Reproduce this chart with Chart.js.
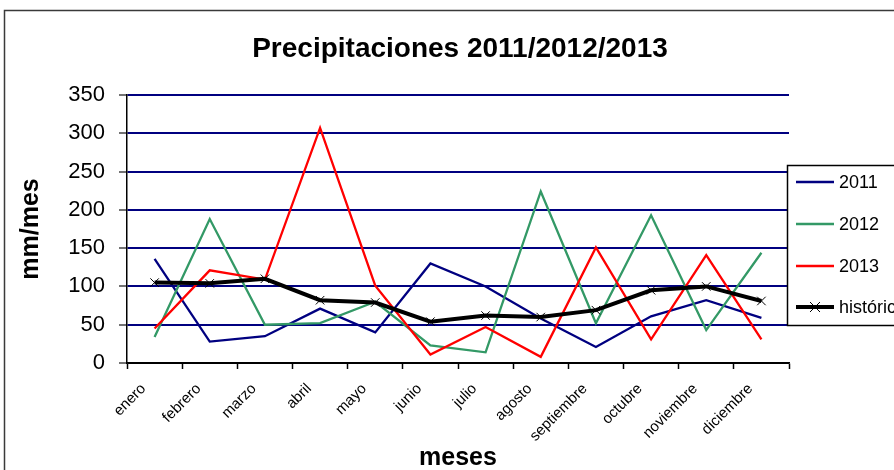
<!DOCTYPE html>
<html>
<head>
<meta charset="utf-8">
<script src="https://cdn.jsdelivr.net/npm/chart.js@4/dist/chart.umd.min.js"></script>
<style>
  html, body { margin: 0; padding: 0; background: #fff; }
  canvas { display: block; }
</style>
</head>
<body>
<canvas id="c" width="894" height="470"></canvas>
<script>
const months = ['enero','febrero','marzo','abril','mayo','junio','julio','agosto','septiembre','octubre','noviembre','diciembre'];
const s2011 = [136, 28, 35, 71, 40, 130, 100, 58, 21, 61, 82, 59];
const s2012 = [34, 188, 50, 52, 80, 23, 14, 224, 52, 193, 43, 144];
const s2013 = [45, 121, 109, 307, 101, 11, 47, 8, 151, 31, 141, 31];
const historico = [105, 104, 110, 82, 79, 54, 62, 60, 69, 95, 100, 81];
const seriesNames = ['2011', '2012', '2013', 'histórico'];
const chartTitle = 'Precipitaciones 2011/2012/2013';
const yTitle = 'mm/mes';
const xTitle = 'meses';

const FONT = '"Liberation Sans", Arial, sans-serif';

const framePlugin = {
  id: 'frame',
  beforeDraw(chart) {
    const ctx = chart.ctx;
    ctx.save();
    ctx.fillStyle = '#fff';
    ctx.fillRect(0, 0, chart.width, chart.height);
    ctx.restore();
  },
  afterDraw(chart) {
    const ctx = chart.ctx;
    ctx.save();
    // outer border
    ctx.strokeStyle = '#3a3a3a';
    ctx.lineWidth = 1.5;
    ctx.strokeRect(4.5, 10.5, 1000, 1000);
    // title
    ctx.fillStyle = '#000';
    ctx.font = 'bold 28px ' + FONT;
    ctx.textAlign = 'center';
    ctx.textBaseline = 'alphabetic';
    ctx.fillText(chartTitle, 460, 57);
    // legend box
    const lx = 787, ly = 165, lb = 325;
    ctx.fillStyle = '#fff';
    ctx.fillRect(lx, ly, 200, lb - ly);
    ctx.strokeStyle = '#000';
    ctx.lineWidth = 1.5;
    ctx.strokeRect(lx + 0.5, ly + 0.5, 200, lb - ly);
    const rows = [182, 224, 266, 307];
    chart.data.datasets.forEach((ds, i) => {
      const y = rows[i];
      ctx.strokeStyle = ds.borderColor;
      ctx.lineWidth = ds.borderWidth;
      ctx.beginPath();
      ctx.moveTo(796, y);
      ctx.lineTo(834, y);
      ctx.stroke();
      if (ds.pointRadius > 0) {
        ctx.strokeStyle = '#000';
        ctx.lineWidth = 1;
        const r = 5;
        ctx.beginPath();
        ctx.moveTo(815 - r, y - r); ctx.lineTo(815 + r, y + r);
        ctx.moveTo(815 - r, y + r); ctx.lineTo(815 + r, y - r);
        ctx.stroke();
      }
      ctx.fillStyle = '#000';
      ctx.font = '18px ' + FONT;
      ctx.textAlign = 'left';
      ctx.textBaseline = 'middle';
      ctx.fillText(ds.label, 839, y + 1);
    });
    ctx.restore();
  }
};

new Chart(document.getElementById('c'), {
  type: 'line',
  data: {
    labels: months,
    datasets: [
      { label: seriesNames[0], data: s2011, borderColor: '#000080', borderWidth: 2.3, pointRadius: 0, order: 4 },
      { label: seriesNames[1], data: s2012, borderColor: '#339966', borderWidth: 2.3, pointRadius: 0, order: 3 },
      { label: seriesNames[2], data: s2013, borderColor: '#ff0000', borderWidth: 2.3, pointRadius: 0, order: 2 },
      { label: seriesNames[3], data: historico, borderColor: '#000000', borderWidth: 4, pointRadius: 6,
        pointStyle: 'crossRot', pointBorderColor: '#000', pointBorderWidth: 1, order: 1 }
    ]
  },
  options: {
    responsive: false,
    devicePixelRatio: 1,
    animation: false,
    elements: { line: { tension: 0 } },
    layout: { padding: { left: 0, top: 95, right: 105, bottom: 0 } },
    plugins: {
      legend: { display: false },
      title: { display: false },
      tooltip: { enabled: false }
    },
    scales: {
      x: {
        type: 'category',
        offset: true,
        afterFit(scale) { scale.height = 107; },
        border: { display: true, color: '#000', width: 1.5 },
        grid: { display: true, drawOnChartArea: false, drawTicks: true, tickLength: 6, tickColor: '#000', tickWidth: 1.5, offset: true },
        ticks: {
          color: '#000',
          font: { family: FONT, size: 15 },
          minRotation: 45, maxRotation: 45,
          autoSkip: false,
          padding: 11,
          labelOffset: -11
        },
        title: {
          display: true, text: xTitle, color: '#000',
          font: { family: FONT, size: 25, weight: 'bold', lineHeight: 1 },
          padding: { top: 0, bottom: -1 }
        }
      },
      y: {
        min: 0, max: 350,
        afterFit(scale) { scale.width = 127; },
        border: { display: true, color: '#000', width: 1.5 },
        grid: {
          color: (c) => (c.tick && c.tick.value === 0) ? '#000' : '#000080',
          lineWidth: 2,
          tickLength: 8,
          tickColor: '#444',
          tickWidth: 1.5
        },
        ticks: {
          stepSize: 50,
          color: '#000',
          font: { family: FONT, size: 22 },
          padding: 14
        },
        title: {
          display: true, text: yTitle, color: '#000',
          font: { family: FONT, size: 25, weight: 'bold', lineHeight: 1.2 },
          padding: { top: 16, bottom: 0 }
        }
      }
    }
  },
  plugins: [framePlugin]
});
</script>
</body>
</html>
